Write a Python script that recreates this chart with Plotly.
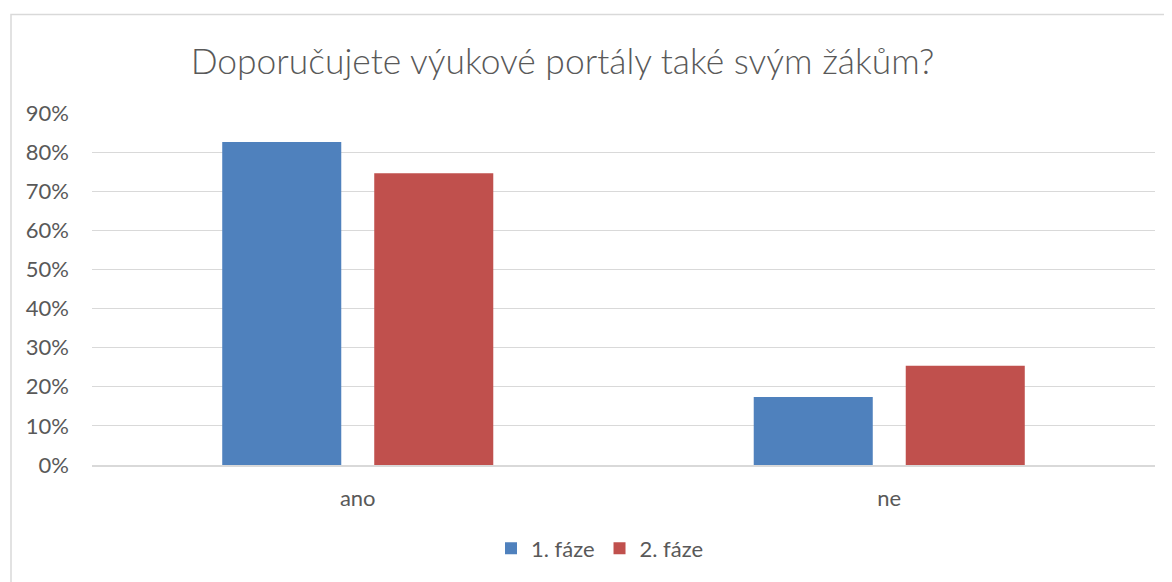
import plotly.graph_objects as go

categories = ["ano", "ne"]
series_names = ["1. fáze", "2. fáze"]
faze1 = [0.826, 0.174]
faze2 = [0.746, 0.254]
colors = ["#4f81bd", "#c0504d"]
title_text = "Doporučujete výukové portály také svým žákům?"

OFF = 8  # default page body margin
W, H = 1172 - OFF, 582 - OFF
PL, PR, PT, PB = 92, 1155, 113, 467  # plot area in page pixels
L, T = PL - OFF, PT - OFF
R, B = W - (PR - OFF), H - (PB - OFF)
pw, ph = PR - PL, PB - PT

def px_x(p):
    return (p - PL) / pw

def px_y(p):
    return (PB - p) / ph

fig = go.Figure()
for name, vals, col in zip(series_names, [faze1, faze2], colors):
    fig.add_trace(go.Bar(x=categories, y=vals, name=name, marker_color=col,
                         marker_line_width=0))

font_family = "Lato"
fig.update_layout(
    width=W, height=H,
    margin=dict(l=L, r=R, t=T, b=B, pad=0),
    paper_bgcolor="white", plot_bgcolor="white",
    barmode="group", bargap=0.428, bargroupgap=0.217,
    font=dict(family=font_family, color="#595959", size=22),
    title=dict(text=title_text, xref="container", x=(562.5 - OFF) / W,
               xanchor="center", yref="container", y=1 - (62 - OFF) / H,
               yanchor="middle",
               font=dict(size=35.4, color="#595959", family=font_family, weight=300)),
    showlegend=True,
    legend=dict(orientation="h", x=px_x(600), xanchor="center", y=px_y(551),
                yanchor="middle", font=dict(size=22, color="#595959"),
                itemwidth=30, traceorder="normal"),
    yaxis=dict(range=[0, 0.9], dtick=0.1, tickformat=".0%", showgrid=True,
               gridcolor="#d9d9d9", gridwidth=1, zeroline=False, showline=False,
               ticklabelstandoff=22, tickfont=dict(size=22, color="#595959")),
    xaxis=dict(showline=True, linecolor="#d9d9d9", linewidth=1.5,
               ticklabelstandoff=13, tickfont=dict(size=22, color="#595959")),
)

fig.add_shape(type="rect", xref="paper", yref="paper",
              x0=px_x(11), x1=px_x(1190), y0=px_y(600), y1=px_y(14),
              line=dict(color="#d9d9d9", width=1.5), fillcolor="rgba(0,0,0,0)",
              layer="below")

fig.write_html("out.html")
